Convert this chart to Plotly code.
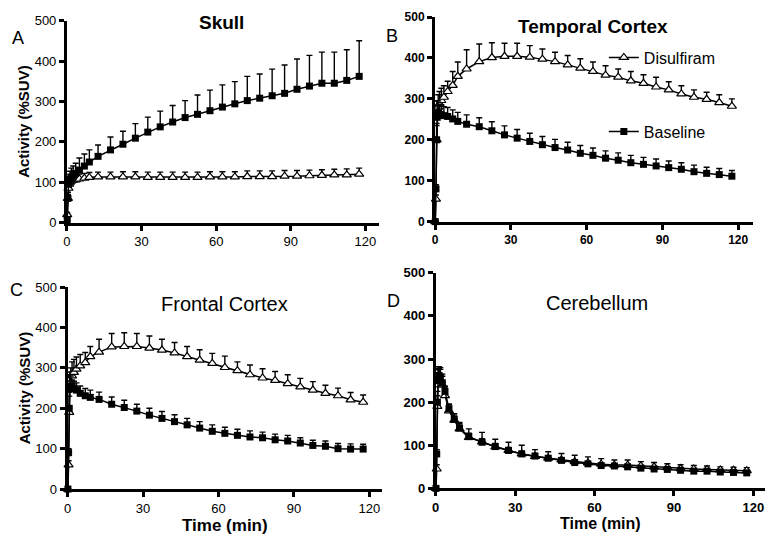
import plotly.graph_objects as go

# ---------------- data ----------------
time_min = [0.1, 0.375, 0.625, 0.875, 1.25, 1.75, 2.5, 3.5, 5, 7, 9,
            12.5, 17.5, 22.5, 27.5, 32.5, 37.5, 42.5, 47.5, 52.5, 57.5, 62.5,
            67.5, 72.5, 77.5, 82.5, 87.5, 92.5, 97.5, 102.5, 107.5, 112.5, 117.5]

x_ticks = [0, 30, 60, 90, 120]
y_ticks = [0, 100, 200, 300, 400, 500]

# Skull
skull_baseline = [5, 60, 95, 100, 105, 110, 115, 122, 130, 140, 150,
                  164, 180, 194, 209, 224, 237, 249, 260, 268, 277, 286,
                  294, 302, 308, 314, 320, 330, 338, 345, 345, 352, 362]
skull_baseline_sem = [5, 15, 20, 20, 22, 25, 25, 25, 30, 30, 30,
                      28, 32, 32, 36, 37, 39, 41, 42, 48, 51, 55,
                      55, 60, 60, 66, 70, 75, 76, 77, 77, 76, 88]
skull_disulfiram = [20, 60, 85, 95, 100, 103, 105, 106, 108, 110, 112,
                    113, 113, 113, 113, 112, 112, 112, 112, 112, 113, 113,
                    113, 114, 114, 114, 115, 115, 116, 117, 118, 118, 120]
skull_disulfiram_sem = [5, 10, 12, 12, 12, 12, 12, 12, 12, 12, 12,
                        12, 12, 13, 13, 13, 13, 13, 13, 13, 13, 13,
                        13, 14, 14, 14, 14, 14, 14, 14, 14, 15, 15]

# Temporal cortex
temporal_baseline = [0, 80, 200, 255, 265, 262, 261, 259, 257, 251, 245,
                     238, 232, 222, 212, 204, 196, 188, 181, 175, 167, 162,
                     155, 150, 144, 140, 136, 132, 128, 122, 118, 115, 111]
temporal_baseline_sem = [0, 10, 40, 40, 30, 25, 25, 22, 22, 22, 22,
                         23, 22, 22, 22, 21, 20, 20, 20, 19, 19, 18,
                         18, 18, 18, 17, 17, 16, 16, 16, 15, 15, 14]
temporal_disulfiram = [0, 55, 200, 260, 280, 288, 296, 304, 318, 333, 355,
                       373, 391, 401, 404, 404, 402, 397, 391, 383, 375, 367,
                       358, 353, 344, 338, 329, 322, 312, 304, 299, 291, 282]
temporal_disulfiram_sem = [0, 10, 35, 35, 30, 30, 30, 28, 25, 34, 35,
                           47, 43, 36, 32, 32, 28, 25, 23, 23, 23, 23,
                           23, 20, 23, 21, 24, 20, 20, 18, 17, 19, 18]

# Frontal cortex
frontal_baseline = [0, 90, 200, 248, 255, 250, 249, 245, 237, 231, 227,
                    222, 210, 202, 193, 183, 175, 167, 159, 151, 143, 138,
                    133, 129, 127, 122, 119, 114, 108, 106, 100, 99, 99]
frontal_baseline_sem = [0, 10, 40, 35, 25, 20, 18, 18, 18, 18, 18,
                        18, 18, 18, 17, 17, 17, 17, 16, 16, 16, 15,
                        15, 15, 14, 14, 14, 13, 13, 13, 13, 13, 12]
frontal_disulfiram = [0, 60, 190, 250, 265, 280, 289, 297, 305, 313, 328,
                      339, 352, 353, 353, 349, 344, 337, 328, 319, 311, 301,
                      293, 283, 275, 269, 261, 253, 245, 237, 231, 221, 215]
frontal_disulfiram_sem = [0, 10, 40, 40, 35, 35, 32, 30, 28, 25, 25,
                          32, 33, 34, 32, 30, 27, 26, 25, 26, 25, 28,
                          22, 24, 23, 22, 22, 21, 21, 20, 19, 18, 18]

# Cerebellum
cerebellum_baseline = [0, 80, 200, 250, 262, 258, 245, 225, 185, 160, 140,
                       120, 107, 97, 88, 80, 75, 70, 65, 60, 57, 53,
                       52, 50, 47, 45, 44, 42, 40, 40, 38, 37, 36]
cerebellum_baseline_sem = [0, 10, 25, 25, 20, 18, 15, 12, 10, 10, 10,
                           8, 8, 7, 7, 6, 6, 5, 5, 5, 5, 5,
                           5, 5, 5, 4, 4, 4, 4, 4, 4, 4, 4]
cerebellum_disulfiram = [0, 45, 190, 240, 248, 250, 240, 215, 180, 158, 138,
                         118, 108, 96, 88, 80, 74, 70, 66, 62, 59, 56,
                         54, 54, 52, 50, 48, 46, 45, 44, 43, 42, 41]
cerebellum_disulfiram_sem = [0, 10, 25, 25, 30, 30, 25, 20, 15, 15, 15,
                             20, 22, 18, 19, 20, 16, 15, 15, 15, 14, 13,
                             12, 12, 10, 10, 9, 9, 8, 8, 7, 7, 7]

# ---------------- layout helpers ----------------
W, H = 765, 546
FONT = "Liberation Sans, Arial, sans-serif"


def xdom(a, b):
    return [a / W, min(b / W, 1.0)]


def ydom(top, bottom):
    return [1 - bottom / H, 1 - top / H]


panels = [
    dict(key="A", title="Skull", base=skull_baseline, base_e=skull_baseline_sem,
         dis=skull_disulfiram, dis_e=skull_disulfiram_sem,
         xd=(63.3, 377.3), xmax=125.6, yd=(14, 221.7), bold_ticks=False, tsize=13,
         ytitle=True, xtitle=False, title_bold=True,
         title_xy=(219, 16), letter_xy=(14, 32)),
    dict(key="B", title="Temporal Cortex", base=temporal_baseline, base_e=temporal_baseline_sem,
         dis=temporal_disulfiram, dis_e=temporal_disulfiram_sem,
         xd=(433.3, 753.3), xmax=126.0, yd=(10.3, 220.7), bold_ticks=True, tsize=12,
         ytitle=False, xtitle=False, title_bold=True,
         title_xy=(592, 20), letter_xy=(390, 30)),
    dict(key="C", title="Frontal Cortex", base=frontal_baseline, base_e=frontal_baseline_sem,
         dis=frontal_disulfiram, dis_e=frontal_disulfiram_sem,
         xd=(64, 380), xmax=125.0, yd=(288, 495.7), bold_ticks=False, tsize=13,
         ytitle=True, xtitle=True, title_bold=False,
         title_xy=(222, 305), letter_xy=(13, 291)),
    dict(key="D", title="Cerebellum", base=cerebellum_baseline, base_e=cerebellum_baseline_sem,
         dis=cerebellum_disulfiram, dis_e=cerebellum_disulfiram_sem,
         xd=(434, 765), xmax=124.4, yd=(273.3, 495), bold_ticks=True, tsize=13,
         ytitle=False, xtitle=True, title_bold=False,
         title_xy=(596, 304), letter_xy=(392, 302)),
]

fig = go.Figure()
annotations = []
zeros = [0] * len(time_min)

for i, p in enumerate(panels):
    n = "" if i == 0 else str(i + 1)
    xa, ya = "x" + n, "y" + n
    show_leg = p["key"] == "B"
    fig.add_trace(go.Scatter(
        x=time_min, y=p["dis"], xaxis=xa, yaxis=ya, name="Disulfiram",
        mode="lines+markers", cliponaxis=False,
        line=dict(color="black", width=1.5),
        marker=dict(symbol="triangle-up", size=8, color="white", line=dict(color="black", width=1.2)),
        error_y=dict(type="data", symmetric=False, array=p["dis_e"], arrayminus=zeros,
                     color="black", thickness=1.4, width=3),
        showlegend=show_leg, legend="legend",
    ))
    fig.add_trace(go.Scatter(
        x=time_min, y=p["base"], xaxis=xa, yaxis=ya, name="Baseline",
        mode="lines+markers", cliponaxis=False,
        line=dict(color="black", width=1.5),
        marker=dict(symbol="square", size=7, color="black", line=dict(color="black", width=0)),
        error_y=dict(type="data", symmetric=False, array=p["base_e"], arrayminus=zeros,
                     color="black", thickness=1.4, width=3),
        showlegend=show_leg, legend="legend2",
    ))

    tickfont = dict(family=FONT, size=p["tsize"], color="black",
                    weight="bold" if p["bold_ticks"] else "normal")
    axis_common = dict(showgrid=False, zeroline=False, showline=True, linecolor="black",
                       linewidth=3, ticks="outside", ticklen=5, tickwidth=2.5,
                       tickcolor="black", tickfont=tickfont)
    xaxis = dict(domain=xdom(*p["xd"]), range=[0, p["xmax"]], tickvals=x_ticks,
                 anchor=ya, **axis_common)
    yaxis = dict(domain=ydom(*p["yd"]), range=[0, 500], tickvals=y_ticks,
                 anchor=xa, **axis_common)
    if p["xtitle"]:
        xaxis["title"] = dict(text="Time (min)", standoff=0 if p["key"] == "C" else 4,
                              font=dict(family=FONT, size=17 if p["key"] == "C" else 16,
                                        color="black", weight="bold"))
    if p["ytitle"]:
        yaxis["title"] = dict(text="Activity (%SUV)", standoff=2,
                              font=dict(family=FONT, size=15, color="black", weight="bold"))
    fig.layout["xaxis" + n] = xaxis
    fig.layout["yaxis" + n] = yaxis

    tx, ty = p["title_xy"]
    annotations.append(dict(
        text=p["title"], x=tx / W, y=1 - ty / H, xref="paper", yref="paper",
        xanchor="center", yanchor="middle", showarrow=False,
        font=dict(family=FONT, size=19 if p["title_bold"] else 20, color="black",
                  weight="bold" if p["title_bold"] else "normal")))
    lx, ly = p["letter_xy"]
    annotations.append(dict(
        text=p["key"], x=lx / W, y=1 - ly / H, xref="paper", yref="paper",
        xanchor="center", yanchor="middle", showarrow=False,
        font=dict(family=FONT, size=18, color="black")))

legend_common = dict(bgcolor="rgba(0,0,0,0)", borderwidth=0, itemwidth=30,
                     font=dict(family=FONT, size=16, color="black"),
                     xanchor="left", yanchor="middle")
fig.update_layout(
    width=W, height=H,
    margin=dict(l=0, r=0, t=0, b=0),
    paper_bgcolor="white", plot_bgcolor="white",
    font=dict(family=FONT, color="black"),
    showlegend=True,
    legend=dict(x=603 / W, y=1 - 52 / H, **legend_common),
    legend2=dict(x=603 / W, y=1 - 128 / H, **legend_common),
    annotations=annotations,
)

fig.write_html("out.html")
